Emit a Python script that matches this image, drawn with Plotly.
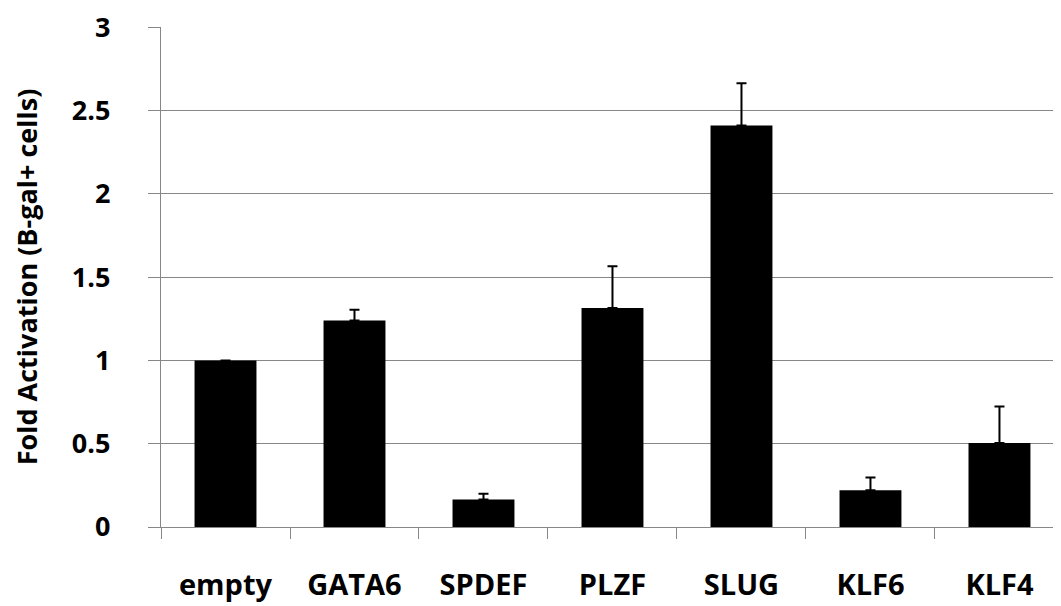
import plotly.graph_objects as go

categories = ["empty", "GATA6", "SPDEF", "PLZF", "SLUG", "KLF6", "KLF4"]
values = [1.0, 1.24, 0.165, 1.315, 2.41, 0.22, 0.505]
errors_plus = [0.0, 0.065, 0.035, 0.25, 0.255, 0.077, 0.218]
y_ticks = [0, 0.5, 1, 1.5, 2, 2.5, 3]
y_ticktext = ["0", "0.5", "1", "1.5", "2", "2.5", "3"]

FONT = "Open Sans"
GRID = "#878787"

fig = go.Figure(
    go.Bar(
        x=categories,
        y=values,
        marker=dict(color="black", line=dict(width=0)),
        error_y=dict(
            type="data",
            array=errors_plus,
            arrayminus=[0] * len(errors_plus),
            symmetric=False,
            color="black",
            thickness=2,
            width=5,
        ),
    )
)

fig.update_layout(
    width=1053,
    height=598,
    margin=dict(l=153, r=0, t=14, b=79),
    paper_bgcolor="white",
    plot_bgcolor="white",
    bargap=0.52,
    showlegend=False,
    font=dict(family=FONT, color="black"),
    xaxis=dict(
        type="category",
        range=[-0.5, 6.477],
        tickson="boundaries",
        ticks="outside",
        ticklen=11,
        tickcolor=GRID,
        tickwidth=1.3,
        showline=True,
        linecolor=GRID,
        linewidth=1.3,
        showgrid=False,
        tickfont=dict(family=FONT, size=29, color="black", weight="bold"),
        ticklabelstandoff=32,
    ),
    yaxis=dict(
        range=[0, 3.002],
        tickvals=y_ticks,
        ticktext=y_ticktext,
        ticks="outside",
        ticklen=12,
        tickcolor=GRID,
        tickwidth=1.3,
        showline=True,
        linecolor=GRID,
        linewidth=1.3,
        showgrid=True,
        gridcolor=GRID,
        gridwidth=1.3,
        zeroline=False,
        tickfont=dict(family=FONT, size=27, color="black", weight="bold"),
        ticklabelstandoff=32,
        ticklabeloverflow="allow",
        title=dict(
            text="Fold Activation (B-gal+ cells)",
            font=dict(family=FONT, size=27, color="black", weight="bold"),
            standoff=30,
        ),
    ),
)

fig.write_html("out.html")
